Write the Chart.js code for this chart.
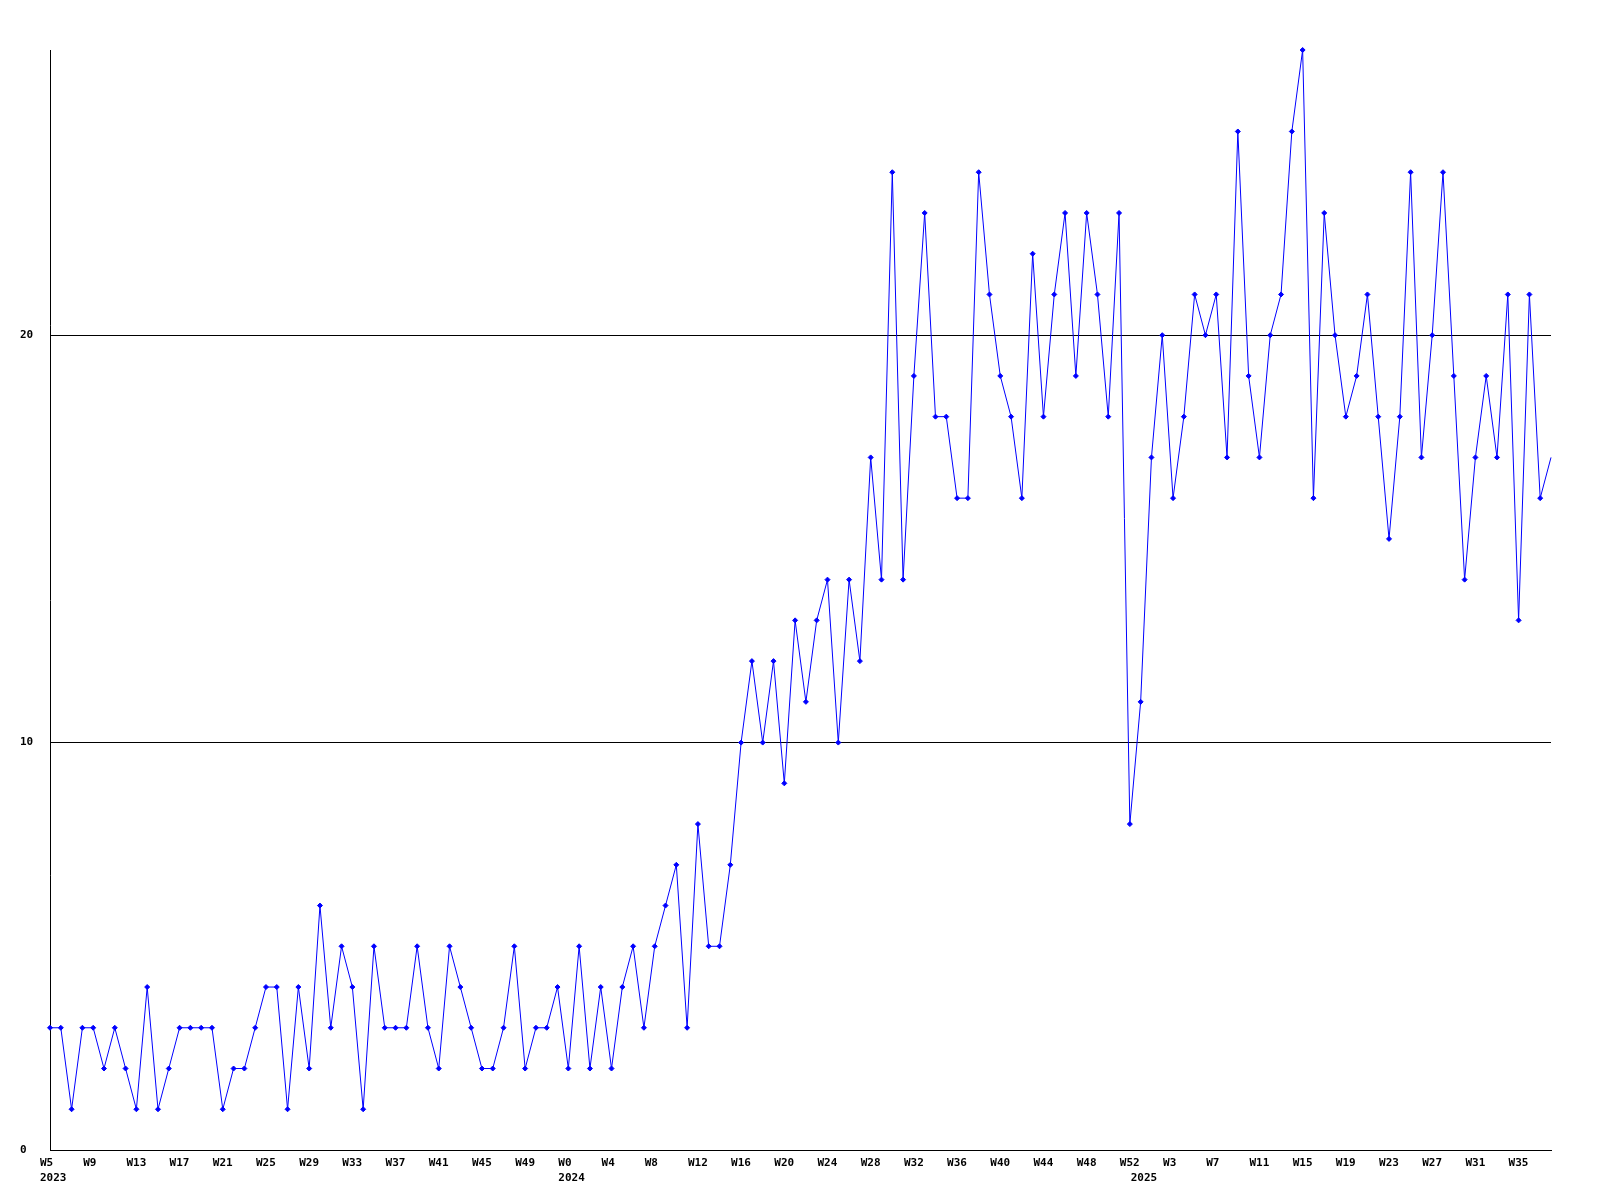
<!DOCTYPE html>
<html lang="en">
<head>
    <meta charset="UTF-8">
    <title>Weekly count</title>
    <script src="https://cdn.jsdelivr.net/npm/chart.js"></script>
    <style>
        body { margin: 0; background: #fff; }
    </style>
</head>
<body>
    <canvas id="weeklyChart" width="1600" height="1200"></canvas>

    <script>
        // year, first week, last week
        const weekRanges = [[2023, 5, 52], [2024, 0, 52], [2025, 0, 38]];

        const weekValues = [
            3, 3, 1, 3, 3, 2, 3, 2, 1, 4, 1, 2, 3, 3, 3, 3, 1, 2, 2, 3,
            4, 4, 1, 4, 2, 6, 3, 5, 4, 1, 5, 3, 3, 3, 5, 3, 2, 5, 4, 3,
            2, 2, 3, 5, 2, 3, 3, 4, 2, 5, 2, 4, 2, 4, 5, 3, 5, 6, 7, 3,
            8, 5, 5, 7, 10, 12, 10, 12, 9, 13, 11, 13, 14, 10, 14, 12, 17, 14, 24, 14,
            19, 23, 18, 18, 16, 16, 24, 21, 19, 18, 16, 22, 18, 21, 23, 19, 23, 21, 18, 23,
            8, 11, 17, 20, 16, 18, 21, 20, 21, 17, 25, 19, 17, 20, 21, 25, 27, 16, 23, 20,
            18, 19, 21, 18, 15, 18, 24, 17, 20, 24, 19, 14, 17, 19, 17, 21, 13, 21, 16, 17
        ];

        const yTicks = [0, 10, 20];
        const yMax = 27;
        const labelEvery = 4;

        const weekLabels = [];
        const weekYears = [];
        weekRanges.forEach(([year, from, to]) => {
            for (let w = from; w <= to; w++) {
                weekLabels.push('W' + w);
                weekYears.push(year);
            }
        });

        const tickFont = { family: "'DejaVu Sans Mono', monospace", size: 11, weight: 'bold', lineHeight: '15px' };

        const ctx = document.getElementById('weeklyChart').getContext('2d');
        const weeklyChart = new Chart(ctx, {
            type: 'line',
            data: {
                labels: weekLabels,
                datasets: [{
                    data: weekValues,
                    borderColor: '#0000ff',
                    backgroundColor: '#0000ff',
                    borderWidth: 1,
                    tension: 0,
                    clip: false,
                    pointStyle: 'rectRot',
                    pointRadius: function(context) {
                        return context.dataIndex === weekValues.length - 1 ? 0 : 2.5;
                    },
                    pointBorderWidth: 1
                }]
            },
            options: {
                responsive: false,
                animation: false,
                events: [],
                layout: {
                    padding: { top: 50, left: 20, right: 49, bottom: 0 }
                },
                plugins: {
                    legend: { display: false },
                    tooltip: { enabled: false }
                },
                scales: {
                    x: {
                        offset: false,
                        grid: { display: false, drawTicks: false },
                        border: { display: true, color: '#000', width: 1 },
                        afterFit: function(scale) { scale.height = 50; },
                        ticks: {
                            autoSkip: false,
                            maxRotation: 0,
                            minRotation: 0,
                            align: 'start',
                            labelOffset: -10,
                            padding: 6,
                            color: '#000',
                            font: tickFont,
                            callback: function(value, index) {
                                const newYear = index === 0 || weekYears[index] !== weekYears[index - 1];
                                const onTick = index % labelEvery === 0;
                                if (onTick && newYear) return [weekLabels[index], String(weekYears[index])];
                                if (onTick) return weekLabels[index];
                                if (newYear) return ['', String(weekYears[index])];
                                return null;
                            }
                        }
                    },
                    y: {
                        min: 0,
                        max: yMax,
                        afterBuildTicks: function(scale) {
                            scale.ticks = yTicks.map(v => ({ value: v }));
                        },
                        afterFit: function(scale) { scale.width = 30; },
                        grid: {
                            color: '#000',
                            lineWidth: 1,
                            drawTicks: false
                        },
                        border: { display: true, color: '#000', width: 1 },
                        ticks: {
                            crossAlign: 'far',
                            padding: 0,
                            color: '#000',
                            font: tickFont
                        }
                    }
                }
            }
        });
    </script>
</body>
</html>
